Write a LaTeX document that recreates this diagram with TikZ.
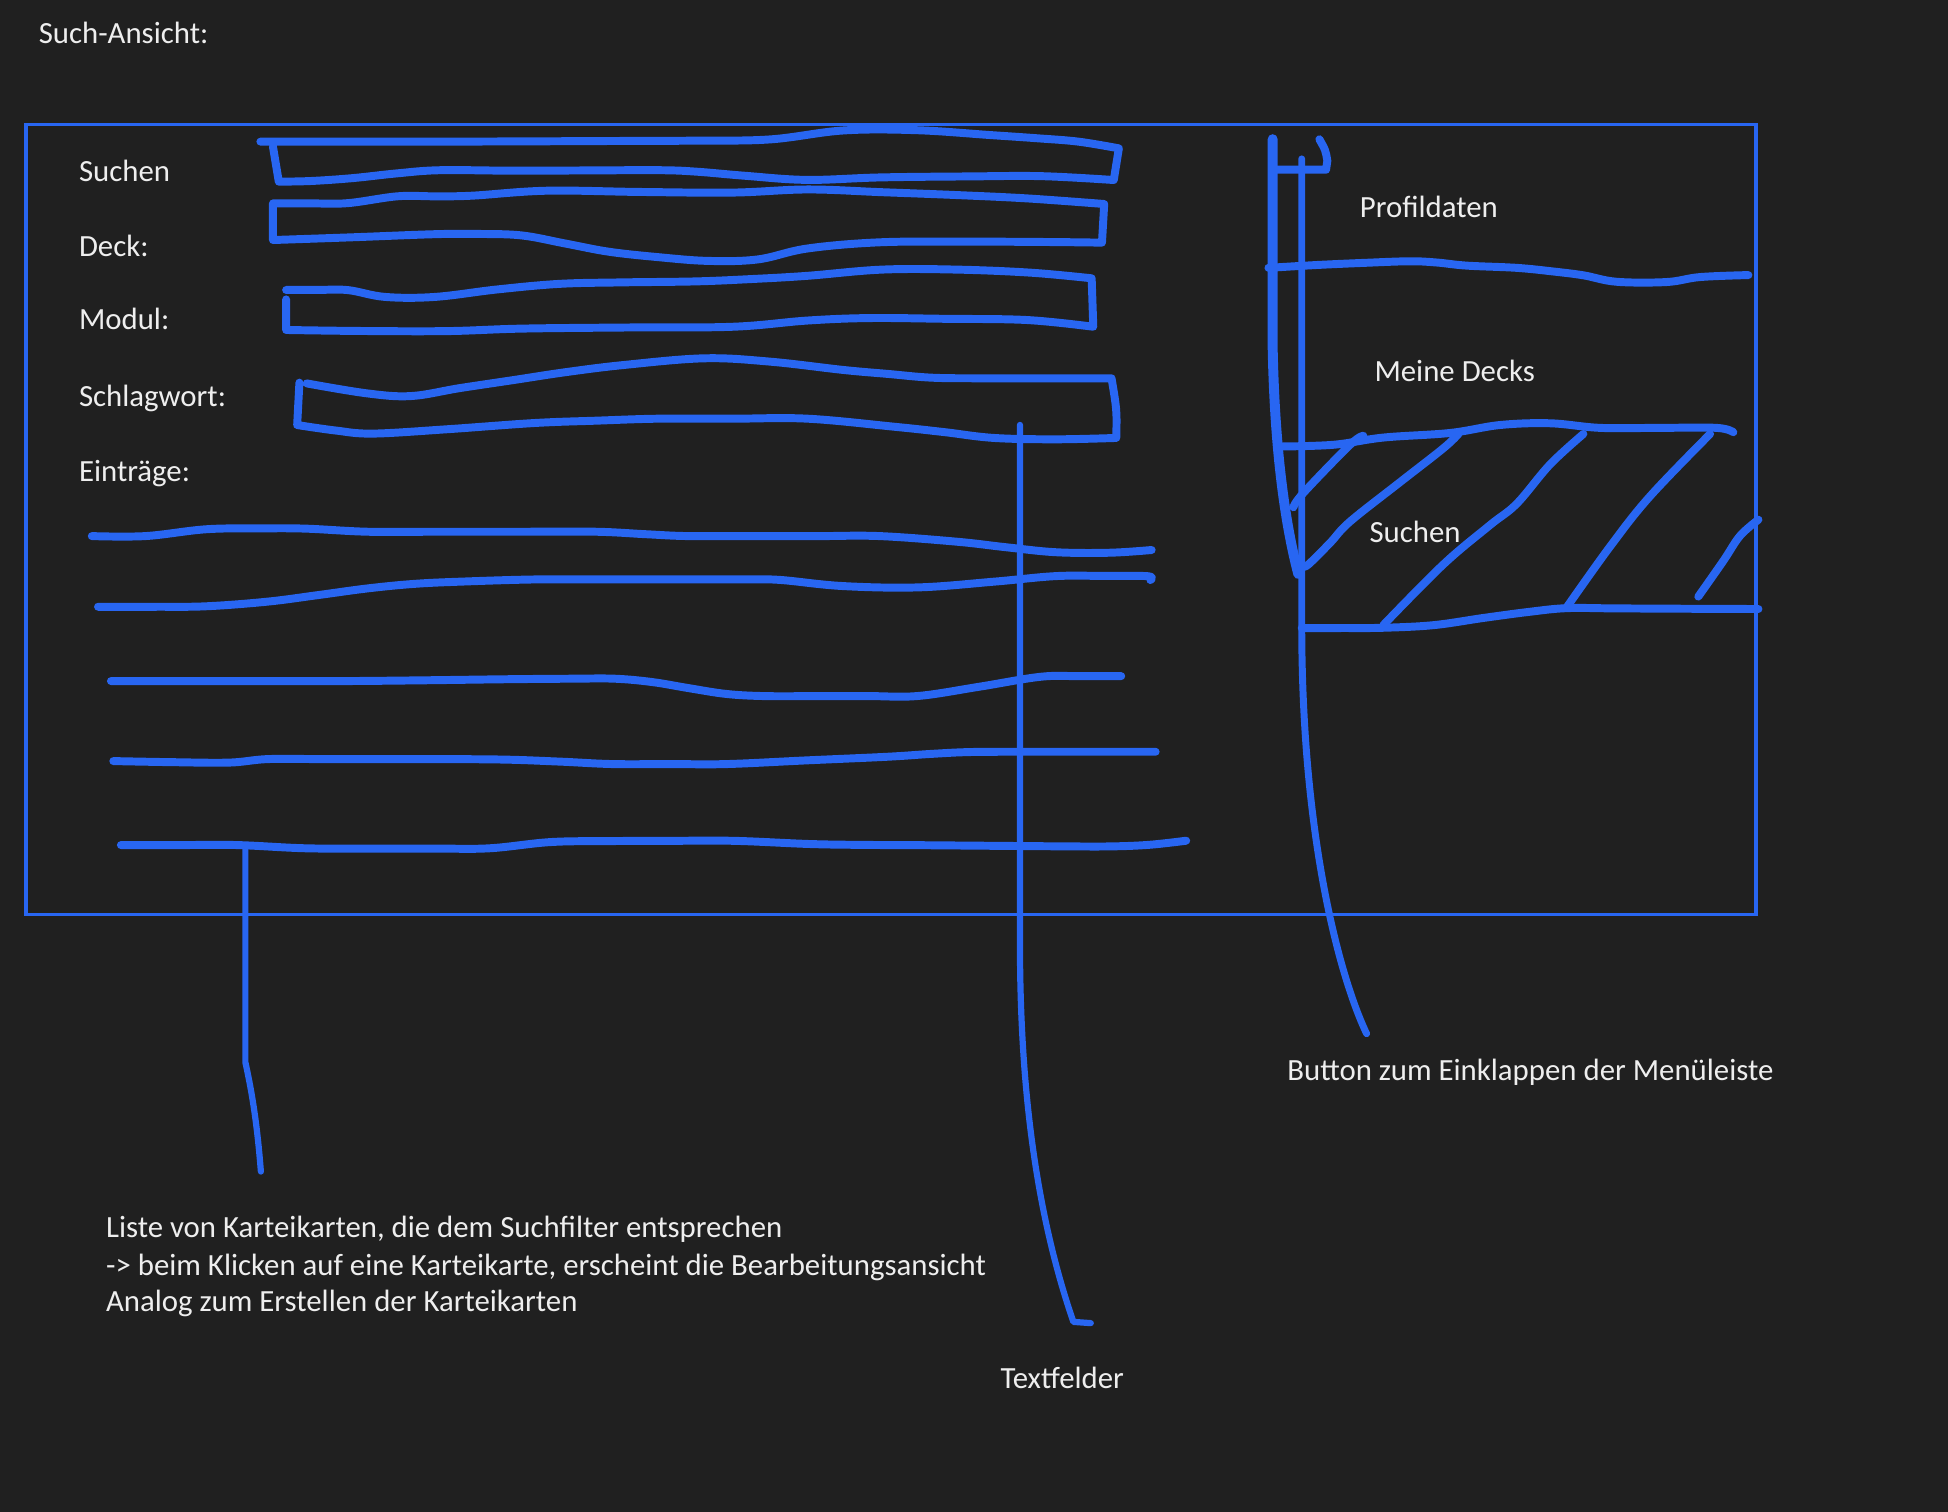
\documentclass[tikz,border=0pt]{standalone}
\usepackage{fontspec}
\setmainfont{Carlito}
\definecolor{bgc}{RGB}{32,32,32}
\definecolor{sk}{RGB}{40,102,242}
\definecolor{txt}{RGB}{238,238,238}
\begin{document}
\begin{tikzpicture}[x=0.5pt,y=-0.5pt,
  stroke/.style={draw=sk, line width=3.2pt, line cap=round, line join=round},
  conn/.style={draw=sk, line width=2.5pt, line cap=round, line join=round},
  heavy/.style={draw=sk, line width=4pt, line cap=round, line join=round},
  frame/.style={draw=sk, line width=1.3pt},
  sm/.style={smooth,tension=0.6},
  lbl/.style={text=txt, font=\fontsize{12.4}{15}\selectfont, inner sep=0pt, anchor=base west}]
\fill[bgc] (0,0) rectangle (1568,1217);
\useasboundingbox (0,0) rectangle (1568,1217);

% outer frame
\draw[frame] (21,100) rectangle (1413.5,736);

% labels
\node[lbl] (title) at (30.8,35) {Such-Ansicht:};
\node[lbl] (lsuchen) at (63.2,145.7) {Suchen};
\node[lbl] (ldeck) at (63.2,206.6) {Deck:};
\node[lbl] (lmodul) at (63.2,265.6) {Modul:};
\node[lbl] (lschlag) at (63.2,326.8) {Schlagwort:};
\node[lbl] (leintr) at (63.2,387.7) {Einträge:};
\node[lbl] (lprofil) at (1094.2,174.8) {Profildaten};
\node[lbl] (ldecks) at (1106,307.1) {Meine Decks};
\node[lbl] (lsuchen2) at (1102,437) {Suchen};
\node[lbl] (lbutton) at (1035.8,869.4) {Button zum Einklappen der Menüleiste};
\node[lbl] (note1) at (85,996) {Liste von Karteikarten, die dem Suchfilter entsprechen};
\node[lbl] (note2) at (85,1026.9) {-> beim Klicken auf eine Karteikarte, erscheint die Bearbeitungsansicht};
\node[lbl] (note3) at (85,1055.9) {Analog zum Erstellen der Karteikarten};
\node[lbl] (ltextf) at (805,1118) {Textfelder};

% text field boxes
\draw[stroke] plot[sm] coordinates {(209.6,114) (260,114) (310,114) (354,114) (420,113.8) (490,113.5) (560,113.2) (620,112.2) (679,105) (738,104.8) (797,108.7) (835,111.3) (868,114) (900.6,119.4)}
  -- plot[sm] coordinates {(896.5,144.9) (838.6,141.8) (780,142) (708.7,142.8) (649.6,144.8) (600,141.5) (561,138.2) (531.5,137) (470,137.2) (413.4,137.4) (354.3,137) (320,139.5) (283.5,143.4) (250,145.7) (224.4,146.2)}
  -- (219.7,118);

\draw[stroke] plot[sm] coordinates {(219.7,163.7) (250,163.7) (280,163.5) (320,158) (350,158) (380,157.5) (440,153.5) (515,154.5) (590,155) (650,152.5) (710,154.7) (770,157) (826.8,159.7) (888.8,164.2)}
  -- plot[sm] coordinates {(887,195.3) (844.5,194.8) (780,194.5) (708.7,195) (650,200) (610,208.8) (570,210) (530,207) (490,202.6) (455,196) (420,189.5) (385,188.3) (350,188.5) (283.5,191) (219.7,193.2)}
  -- cycle;

\draw[stroke] (230.3,241) -- plot[sm] coordinates {(230.3,265.6) (290,266.4) (360,266.5) (420,264.5) (505,263.6) (590,263) (650,258) (700,256) (760,256.6) (826.8,257.6) (880,263)}
  -- plot[sm] coordinates {(878.7,224) (830,219.5) (770,217) (710,217) (650,222) (605,224.6) (560,226.5) (500,227.3) (450,228.5) (400,233) (350,239) (310,239) (280,233.5) (255,233.4) (230.3,233.4)};

\draw[stroke] (241,308) -- plot[sm] coordinates {(239.2,342.1) (270,346.5) (300,349) (360,345.5) (430,340.5) (480,338.6) (530,337) (590,337) (650,337) (720,343.5) (760,347.8) (800,352.5) (850,353.6) (898.5,352.5)}
  .. controls (899,330) .. (894.7,304.5)
  -- plot[sm] coordinates {(894.7,304.5) (840,304.5) (790,304.5) (750,304) (715,301) (679,297.8) (620,291.1) (567,288.4) (502,293.8) (455,299.6) (413.4,305.9) (370,312.4) (330.7,318.8) (295.3,316.6) (246.9,308.6)};

% entry lines
\draw[stroke] plot[sm] coordinates {(73.9,431.5) (117,431.5) (166,426) (210,425.3) (246,425.5) (296,428) (350,428) (420,428) (480,428) (520,430) (554,431.5) (610,431.5) (660,431.5) (708,431.5) (770,436) (810,440.5) (850,444.5) (893,444.9) (927,442.7)};
\draw[stroke] plot[sm] coordinates {(78.9,488.4) (125,488.4) (166,488) (215,484.3) (256,479) (296,473.6) (333,470) (370,468.2) (431,466.4) (490,466.4) (550,466.4) (600,466.4) (628,466.8) (678,471.7) (739,472.8) (800,468.2) (850,463.7) (890,463.6) (924,463.8) (926,466.9)};
\draw[stroke] plot[sm] coordinates {(89.3,548.2) (150,548.2) (215,548.2) (277,548.2) (340,547.6) (410,546.7) (460,546.3) (495,546.3) (525,549) (555,554) (585,558.6) (616,560.3) (660,560.3) (700,560.3) (739,560.2) (788,552.8) (838,544.7) (870,544.3) (902.5,544.2)};
\draw[stroke] plot[sm] coordinates {(91.2,612.6) (140,613.5) (184.8,613.8) (215.6,611) (260,611) (320,611) (400,611.3) (450,613) (493,615) (540,615) (585,615) (650,612) (714.6,609.1) (750,606.8) (782,605.3) (830,605.1) (880,605.1) (930.2,605.1)};
\draw[stroke] plot[sm] coordinates {(97.3,680.2) (145,680.2) (191,680.2) (246,682.8) (300,683) (350,683) (394,682.8) (443,677.8) (490,677) (540,676.8) (591,676.8) (653,679.4) (700,680.1) (740,680.3) (800,680.8) (850,681.2) (893,681.3) (925,680) (954.8,676.7)};

% right menu panel
\draw[heavy] (1024.4,112) -- (1024.4,280) .. controls (1026,360) and (1034,420) .. (1045,462);
\draw[stroke] (1024.4,136.6) -- (1067.4,136.6) -- (1068.4,129.4) .. controls (1067,121) .. (1062,112.1);
\draw[stroke] plot[sm] coordinates {(1021,215.6) (1059.9,213.3) (1100,211.5) (1135,210.3) (1156.5,211.3) (1180.6,213.8) (1220.9,215.6) (1250,218.5) (1274.5,221.6) (1301.3,226.8) (1341.6,227) (1368.4,223) (1407.3,221.4)};
\draw[stroke] plot[sm] coordinates {(1029,359.4) (1073.3,358) (1113.5,352.2) (1167.2,348.5) (1207.4,342.1) (1247.7,340.7) (1288,344.4) (1335,344.4) (1381.8,344.4) (1395.2,347.9)};
\draw[stroke] plot[sm] coordinates {(1097.4,350.8) (1086.7,358) (1049.1,396.8) (1041.1,408.3)};
\draw[stroke] plot[sm] coordinates {(1173.9,349.3) (1161.8,360.8) (1126.9,388.1) (1086.7,419.8) (1070.6,437) (1053.2,454.3) (1049.1,455.7)};
\draw[stroke] plot[sm] coordinates {(1274.5,349.3) (1247.7,373.8) (1220.9,405.4) (1199.4,422.6) (1161.8,454.3) (1113.5,503.1)};
\draw[stroke] plot[sm] coordinates {(1376.5,349.3) (1328,399.6) (1296,439.9) (1261.1,488.8)};
\draw[stroke] plot[sm] coordinates {(1415.4,418.3) (1400.6,431.3) (1387.2,451.4) (1367,480.2)};
\draw[stroke] plot[sm] coordinates {(1047.8,505.5) (1080,505.5) (1113.5,505.3) (1153.8,503.2) (1194,497.4) (1230,492.6) (1261.1,489.5) (1300,489.7) (1360,490) (1415.4,490.2)};

% connectors
\coordinate (btnEnd) at (1100,832);
\coordinate (menuTop) at (1047.8,127.9);
\draw[conn, line width=2.8pt] (menuTop) -- (1047.8,505) .. controls (1048,680) and (1080,790) .. (btnEnd);

\coordinate (tfTop) at (821,342);
\coordinate (tfEnd) at (878,1065);
\draw[conn] (tfTop) -- (821,760) .. controls (821,880) and (835,980) .. (864,1064) -- (tfEnd);

\coordinate (listTop) at (197.5,681.5);
\coordinate (listEnd) at (210,943);
\draw[conn] (listTop) -- (197.5,855) .. controls (203,880) and (207,905) .. (listEnd);
\end{tikzpicture}
\end{document}
